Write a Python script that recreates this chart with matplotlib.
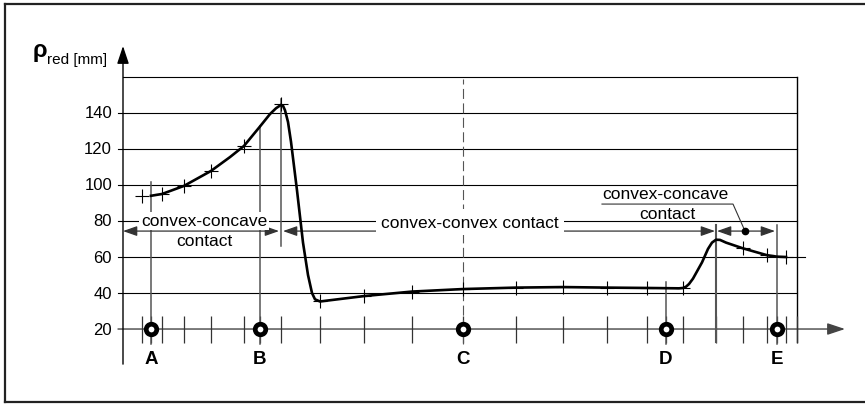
import numpy as np
import matplotlib
matplotlib.use("Agg")
import matplotlib.pyplot as plt
from matplotlib.lines import Line2D
from matplotlib.patches import FancyArrowPatch

plt.rcParams['font.family'] = ['Liberation Sans', 'DejaVu Sans']

# curve rho_red [mm] along the path (x in arbitrary position units)
curve_x = [2.8, 3.9, 6.1, 8.8, 10.7, 12.1, 13.7, 14.7, 15.3, 15.8, 16.0, 16.2, 16.5, 16.8,
           17.4, 18.0, 18.5, 18.9, 19.2, 19.7, 24.1, 28.9, 34.0, 39.3, 44.0, 48.4,
           52.4, 55.6, 56.0, 56.3, 56.6, 57.0, 57.9, 58.5, 58.9, 59.3, 59.7, 60.3, 62.0,
           64.4, 65.4, 66.3]
curve_y = [94.0, 95.0, 99.5, 107.8, 115.5, 121.7, 132.5, 139.4, 142.6, 144.5, 144.0, 141.5,
           135.0, 124.0, 97.0, 68.0, 50.0, 40.0, 36.5, 35.3, 38.3, 40.8, 42.2, 43.0, 43.3, 43.0,
           42.8, 42.6, 42.8, 43.5, 45.0, 48.0, 57.0, 64.5, 68.0, 69.6, 69.5, 68.0, 64.8,
           61.0, 60.2, 60.0]

# measured points (+ marks)
pts_x = [1.9, 3.9, 6.1, 8.8, 12.1, 15.8, 19.7, 24.1, 28.9, 34.0, 39.3, 44.0,
         48.4, 52.4, 56.0, 62.0, 64.4, 66.3]
pts_y = [94.0, 95.0, 99.5, 107.8, 121.7, 145.0, 35.3, 38.3, 40.8, 42.2, 43.0, 43.3,
         43.0, 42.8, 42.7, 64.8, 61.0, 60.0]

# ticks on the path axis
tick_x = [1.9, 2.8, 3.9, 6.1, 8.8, 12.1, 13.7, 15.8, 19.7, 24.1, 28.9, 34.0, 39.3,
          44.0, 48.4, 52.4, 54.3, 56.0, 59.3, 62.0, 64.4, 65.4, 66.3, 67.4]

# contact points A..E
contact_names = ['A', 'B', 'C', 'D', 'E']
contact_x = [2.8, 13.7, 34.0, 54.3, 65.4]
contact_top = [101.7, 133.0, 159.0, 46.0, 77.8]

y_levels = [20, 40, 60, 80, 100, 120, 140, 160]
y_labels = ['20', '40', '60', '80', '100', '120', '140']

# contact zones (start, end) on the path
zones = [(0.0, 15.6), (16.0, 59.2), (59.4, 65.2)]
zone_y = 74.4
x_end = 67.4

fig = plt.figure(figsize=(8.65, 4.06), dpi=100)
ax = fig.add_axes([0, 0, 1, 1])
ax.set_xlim(-12.3, 74.2)
ax.set_ylim(-22.2, 203.3)
ax.axis('off')

# outer frame
for xs, ys in [([0.006, 1.0], [0.988, 0.988]), ([0.006, 0.006], [0.007, 0.988]),
               ([0.006, 1.0], [0.007, 0.007])]:
    fig.add_artist(Line2D(xs, ys, transform=fig.transFigure, color='#222222', lw=1.6))

# grid
for lv in y_levels[1:]:
    x0 = 0 if lv == 160 else -0.5
    x1 = 68.2 if lv == 60 else x_end
    ax.plot([x0, x1], [lv, lv], color='black', lw=0.8, zorder=1)
ax.plot([x_end, x_end], [12.8, 160], color='black', lw=1.0, zorder=1)

# axes with arrows
ax.annotate('', xy=(0, 177.2), xytext=(0, 0.5),
            arrowprops=dict(arrowstyle='-|>,head_length=0.9,head_width=0.3', color='black',
                            lw=1.0, mutation_scale=12, shrinkA=0, shrinkB=0), zorder=3)
ax.annotate('', xy=(72.2, 20), xytext=(-0.5, 20),
            arrowprops=dict(arrowstyle='-|>,head_length=0.9,head_width=0.3', color='#444444',
                            lw=1.0, mutation_scale=12, shrinkA=0, shrinkB=0), zorder=2)

# tick labels
for lv, lab in zip(y_levels, y_labels):
    ax.text(-1.1, lv, lab, ha='right', va='center', fontsize=12)

ax.text(-9.0, 171.7, 'ρ', fontsize=17, fontweight='bold', ha='left', va='baseline')
ax.text(-7.6, 167.5, 'red [mm]', fontsize=11, ha='left', va='baseline')

# ticks on the path axis
ax.vlines(tick_x, 12.2, 27.2, color='#333333', lw=0.9, zorder=2)

# guide lines
guide = '#555555'
for name, cx, top in zip(contact_names, contact_x, contact_top):
    if name == 'C':
        ax.plot([cx, cx], [11.7, top], color=guide, lw=0.8, dashes=(9, 4), zorder=2)
    else:
        ax.plot([cx, cx], [11.7, top], color=guide, lw=1.1, zorder=2)
ax.plot([15.8, 15.8], [66.0, 147.8], color=guide, lw=1.1, zorder=2)
ax.plot([59.3, 59.3], [12.8, 77.8], color=guide, lw=1.5, zorder=2)

# curve and measured points
ax.plot(curve_x, curve_y, color='black', lw=1.9, solid_joinstyle='round', zorder=5)
ax.plot(pts_x, pts_y, ls='none', marker='+', ms=9.5, mew=0.8, color='black', zorder=5)

# contact points
ax.plot(contact_x, [20] * len(contact_x), ls='none', marker='o', ms=7.6, mew=3.4,
        mec='black', mfc='white', zorder=6)
for name, cx in zip(contact_names, contact_x):
    ax.text(cx, 3.9, name, ha='center', va='center', fontsize=13.5, fontweight='bold')

# contact zone dimension arrows
for x0, x1 in zones:
    ax.add_patch(FancyArrowPatch((x0, zone_y), (x1, zone_y),
                                 arrowstyle='<|-|>,head_length=0.85,head_width=0.3',
                                 mutation_scale=10, color='#333333', lw=0.9,
                                 shrinkA=0, shrinkB=0, zorder=4))

box = dict(boxstyle='square,pad=0.1', fc='white', ec='none')
ax.text(8.1, 80, 'convex-concave', ha='center', va='center', fontsize=12.5, bbox=box, zorder=7)
ax.text(8.1, 68.9, 'contact', ha='center', va='center', fontsize=12.5, zorder=7)
ax.text(34.7, 79.4, 'convex-convex contact', ha='center', va='center', fontsize=12.5,
        bbox=dict(boxstyle='square,pad=0.3', fc='white', ec='none'), zorder=7)
ax.text(54.2, 95, 'convex-concave', ha='center', va='center', fontsize=12.5, zorder=7)
ax.text(54.4, 84.4, 'contact', ha='center', va='center', fontsize=12.5, zorder=7)

# leader to the right zone
ax.plot([47.9, 61.0, 62.2], [89.4, 89.4, zone_y], color='#333333', lw=0.8, zorder=4)
ax.plot([62.2], [zone_y], marker='o', ms=4.5, color='black', zorder=6)

fig.savefig('out.png', dpi=100)
